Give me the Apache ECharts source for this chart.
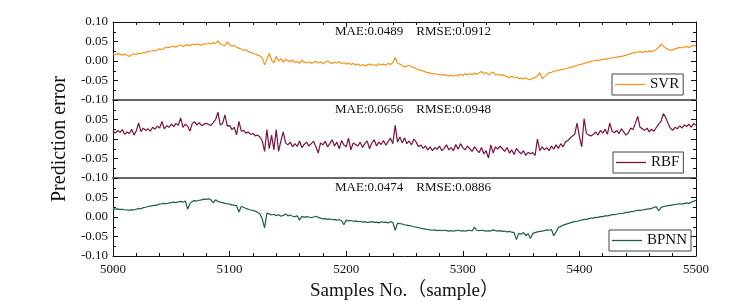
<!DOCTYPE html>
<html>
<head>
<meta charset="utf-8">
<script src="https://cdn.jsdelivr.net/npm/echarts@6/dist/echarts.min.js"></script>
<style>html,body{margin:0;padding:0;background:#fff}#c{width:741px;height:301px}</style>
</head>
<body>
<div id="c"></div>
<script>
// sample numbers (every 2nd sample, 5000..5500)
const samples = Array.from({length: 251}, (_, i) => 5000 + 2 * i);
const xTicks = [5000, 5100, 5200, 5300, 5400, 5500];
const yTicks = [-0.10, -0.05, 0.00, 0.05, 0.10];
const models = ['SVR', 'RBF', 'BPNN'];
const metrics = ['MAE:0.0489    RMSE:0.0912', 'MAE:0.0656    RMSE:0.0948', 'MAE:0.0474    RMSE:0.0886'];

const svr = [
.018,.016,.019,.017,.015,.018,
.014,.012,.016,.018,.017,.020,.019,.022,.021,.024,
.025,.027,.026,.028,.031,.029,.033,.036,.034,.037,
.038,.035,.039,.041,.037,.040,.042,.039,.043,.041,
.044,.042,.040,.045,.043,.046,.044,.047,.045,.052,
.044,.041,.039,.049,.042,.038,.040,.035,.033,.030,
.027,.029,.024,.022,.020,.018,.015,.013,.008,-.010,
.005,.020,.002,-.005,.012,.000,.006,-.003,.004,.001,
-.002,.003,-.004,-.001,-.006,.002,-.003,-.005,-.002,-.006,
-.004,-.001,-.005,-.002,-.007,-.003,.000,-.004,-.006,-.003,
-.005,-.002,-.007,-.004,-.008,-.005,-.009,-.006,-.010,-.008,
-.012,-.009,-.013,-.010,-.008,-.011,-.009,-.012,-.007,-.010,
-.008,-.011,-.006,-.009,-.004,.009,-.005,-.008,-.012,-.015,
-.013,-.011,-.014,-.017,-.020,-.022,-.024,-.026,-.028,-.030,
-.031,-.033,-.032,-.034,-.035,-.036,-.035,-.037,-.038,-.037,
-.039,-.036,-.038,-.034,-.037,-.033,-.036,-.032,-.035,-.031,
-.034,-.030,-.027,-.033,-.029,-.035,-.031,-.028,-.036,-.034,
-.037,-.035,-.038,-.040,-.042,-.039,-.043,-.041,-.045,-.044,
-.046,-.043,-.047,-.048,-.044,-.042,-.038,-.030,-.045,-.040,
-.035,-.030,-.029,-.027,-.025,-.024,-.022,-.021,-.020,-.018,
-.017,-.015,-.013,-.011,-.009,-.008,-.006,-.004,-.003,-.001,
.000,.002,.001,.003,.005,.004,.006,.007,.008,.009,
.010,.011,.012,.013,.015,.017,.019,.021,.022,.023,
.024,.022,.025,.023,.026,.024,.027,.030,.035,.044,
.038,.033,.030,.027,.029,.031,.033,.035,.034,.036,
.037,.035,.038,.040,.038
];

const rbf = [
.020,.015,.022,.017,.024,.012,
.018,.014,.025,.010,.021,.041,.019,.028,.022,.026,
.020,.030,.025,.033,.028,.045,.026,.034,.030,.038,
.032,.040,.035,.054,.030,.038,.033,.020,.040,.044,
.036,.042,.034,.038,.040,.037,.035,.042,.050,.069,
.036,.040,.062,.033,.035,.024,.030,.011,.045,.020,
.022,.015,.018,.012,.014,.008,.010,.005,-.005,-.032,
.024,-.025,.010,-.028,.024,-.032,-.005,.018,-.010,-.015,
-.008,-.020,-.012,-.019,-.005,-.022,-.014,-.008,-.018,-.012,
-.006,-.020,-.036,-.010,-.015,-.006,-.020,-.012,-.002,-.018,
-.008,-.025,-.004,-.015,-.020,.002,-.028,-.010,-.014,-.018,
-.008,-.022,-.012,-.005,-.025,-.010,-.002,-.018,-.008,-.014,
-.004,-.016,-.006,.002,-.012,.035,-.008,.005,-.010,.003,
-.012,-.005,-.015,.000,-.008,-.020,-.015,-.024,-.018,-.028,
-.020,-.030,-.022,-.026,-.018,-.030,-.024,-.015,-.028,-.022,
-.030,-.014,-.026,-.012,-.022,-.028,-.018,-.025,-.032,-.020,
-.028,-.035,-.022,-.038,-.030,-.049,-.015,-.036,-.020,-.026,
-.018,-.025,-.032,-.022,-.036,-.028,-.040,-.024,-.032,-.038,
-.030,-.042,-.034,-.038,-.035,-.042,.000,-.030,-.020,-.028,
-.022,-.030,-.018,-.026,-.015,-.024,-.012,-.020,-.008,-.004,
.002,.008,.012,.041,.006,-.020,.052,.015,.010,.008,
.012,.018,.010,.022,.015,.025,.012,.041,.020,.016,
.022,.014,.026,.018,.010,.016,.028,.024,.040,.058,
.030,.026,.022,.028,.018,.025,.020,.030,.038,.045,
.065,.055,.040,.028,.022,.030,.026,.034,.028,.036,
.032,.038,.030,.040,.035
];

const bpnn = [
.022,.020,.021,.019,.020,.018,
.018,.017,.019,.018,.020,.022,.021,.024,.025,.027,
.028,.029,.030,.031,.033,.034,.035,.034,.036,.037,
.038,.037,.039,.040,.038,.041,.020,.035,.040,.042,
.041,.043,.044,.046,.045,.047,.044,.036,.044,.040,
.038,.037,.035,.034,.033,.031,.030,.029,.013,.027,
.025,.022,.020,.018,.017,.015,.012,.008,-.005,-.028,
.010,.008,.005,.007,.003,.006,.002,.004,.008,.003,
.005,.002,.001,.003,-.008,.002,-.001,.001,.000,-.002,
.000,.002,-.001,-.003,-.005,-.004,-.006,-.005,-.007,-.006,
-.008,-.007,-.009,-.020,-.008,-.010,-.009,-.011,-.010,-.012,
-.011,-.013,-.012,-.014,-.013,-.012,-.014,-.013,-.015,-.012,
-.014,-.013,-.015,-.012,-.014,-.034,-.016,-.017,-.018,-.020,
-.021,-.022,-.023,-.025,-.026,-.027,-.029,-.030,-.031,-.032,
-.033,-.034,-.033,-.035,-.034,-.035,-.034,-.035,-.036,-.035,
-.036,-.035,-.034,-.036,-.035,-.036,-.035,-.034,-.036,-.026,
-.034,-.035,-.034,-.035,-.036,-.035,-.036,-.033,-.035,-.036,
-.035,-.037,-.036,-.038,-.037,-.039,-.040,-.058,-.042,-.044,
-.040,-.048,-.043,-.055,-.042,-.040,-.038,-.037,-.036,-.035,
-.033,-.034,-.032,-.048,-.038,-.027,-.024,-.021,-.019,-.017,
-.015,-.013,-.012,-.011,-.009,-.008,-.006,-.006,-.004,-.003,
-.003,-.001,-.001,.001,.001,.003,.003,.004,.006,.006,
.007,.009,.009,.010,.012,.012,.014,.014,.016,.017,
.017,.018,.019,.020,.021,.022,.025,.026,.016,.024,
.027,.028,.029,.030,.031,.032,.033,.034,.033,.035,
.036,.035,.038,.040,.043
];

const seriesValues = [svr, rbf, bpnn];
const colors = ['#F7941D', '#7A1241', '#1F5E4B'];
const serif = '"Liberation Serif", "Times New Roman", "Noto Sans CJK SC", serif';

const tops = [22, 100, 178];
const panelH = 78;
const legendPos = [{left: 612, top: 74}, {left: 613, top: 152}, {left: 609, top: 230}];

const grids = [], xAxes = [], yAxes = [], series = [], legends = [], graphics = [];
for (let i = 0; i < 3; i++) {
  grids.push({left: 113, width: 583, top: tops[i], height: panelH, outerBoundsMode: 'none'});
  const last = i === 2;
  xAxes.push({
    type: 'value', gridIndex: i, min: xTicks[0], max: xTicks[xTicks.length - 1], interval: 100,
    position: 'bottom',
    axisLine: {show: true, onZero: false, lineStyle: last ? {color: '#111', width: 1} : {color: '#666', width: 2}},
    axisTick: {show: last, inside: true, length: 5, lineStyle: {color: '#111'}},
    minorTick: {show: last, splitNumber: 5, length: 3, lineStyle: {color: '#111'}},
    axisLabel: {show: last, color: '#111', fontFamily: serif, fontSize: 13, margin: 7, formatter: v => String(v)},
    splitLine: {show: false},
    name: last ? 'Samples No.（sample）' : '', nameLocation: 'middle', nameGap: 26,
    nameTextStyle: {color: '#111', fontFamily: serif, fontSize: 19}
  });
  xAxes.push({
    type: 'value', gridIndex: i, min: xTicks[0], max: xTicks[xTicks.length - 1], interval: 100,
    position: 'top',
    axisLine: {show: i === 0, onZero: false, lineStyle: {color: '#111', width: 1}},
    axisTick: {show: i === 0, inside: true, length: 5, lineStyle: {color: '#111'}},
    minorTick: {show: i === 0, splitNumber: 5, length: 3, lineStyle: {color: '#111'}},
    axisLabel: {show: false}, splitLine: {show: false}
  });
  yAxes.push({
    type: 'value', gridIndex: i, min: yTicks[0], max: yTicks[yTicks.length - 1], interval: 0.05,
    position: 'left',
    axisLine: {show: true, onZero: false, lineStyle: {color: '#111', width: 1}},
    axisTick: {show: true, inside: true, length: 5, lineStyle: {color: '#111'}},
    minorTick: {show: true, splitNumber: 2, length: 3, lineStyle: {color: '#111'}},
    axisLabel: {color: '#111', fontFamily: serif, fontSize: 13, margin: 5,
      showMaxLabel: i === 0, formatter: v => v.toFixed(2)},
    splitLine: {show: false},
    name: i === 1 ? 'Prediction error' : '', nameLocation: 'middle', nameGap: 42,
    nameTextStyle: {color: '#111', fontFamily: serif, fontSize: 20}
  });
  yAxes.push({
    type: 'value', gridIndex: i, min: yTicks[0], max: yTicks[yTicks.length - 1], interval: 0.05,
    position: 'right',
    axisLine: {show: true, onZero: false, lineStyle: {color: '#111', width: 1}},
    axisTick: {show: true, inside: true, length: 5, lineStyle: {color: '#111'}},
    minorTick: {show: true, splitNumber: 2, length: 3, lineStyle: {color: '#111'}},
    axisLabel: {show: false}, splitLine: {show: false}
  });
  series.push({
    name: models[i], type: 'line', xAxisIndex: 2 * i, yAxisIndex: 2 * i,
    data: samples.map((s, k) => [s, seriesValues[i][k]]),
    symbol: 'none', showSymbol: false, animation: false,
    lineStyle: {color: colors[i], width: 1.2}, itemStyle: {color: colors[i]}
  });
  legends.push({
    data: [{name: models[i], icon: 'rect'}], left: legendPos[i].left, top: legendPos[i].top,
    orient: 'horizontal', padding: [3, 4, 3, 3], itemWidth: 30, itemHeight: 1.3,
    borderColor: '#444', borderWidth: 1, backgroundColor: '#fff',
    textStyle: {color: '#111', fontFamily: serif, fontSize: 15}
  });
  graphics.push({
    type: 'text', left: 335, top: tops[i] + 3,
    style: {text: metrics[i], fill: '#111', font: '13px ' + serif}
  });
}

const chart = echarts.init(document.getElementById('c'), null, {renderer: 'canvas'});
chart.setOption({
  backgroundColor: '#fff',
  animation: false,
  grid: grids, xAxis: xAxes, yAxis: yAxes, series: series, legend: legends,
  graphic: graphics
});
</script>
</body>
</html>
